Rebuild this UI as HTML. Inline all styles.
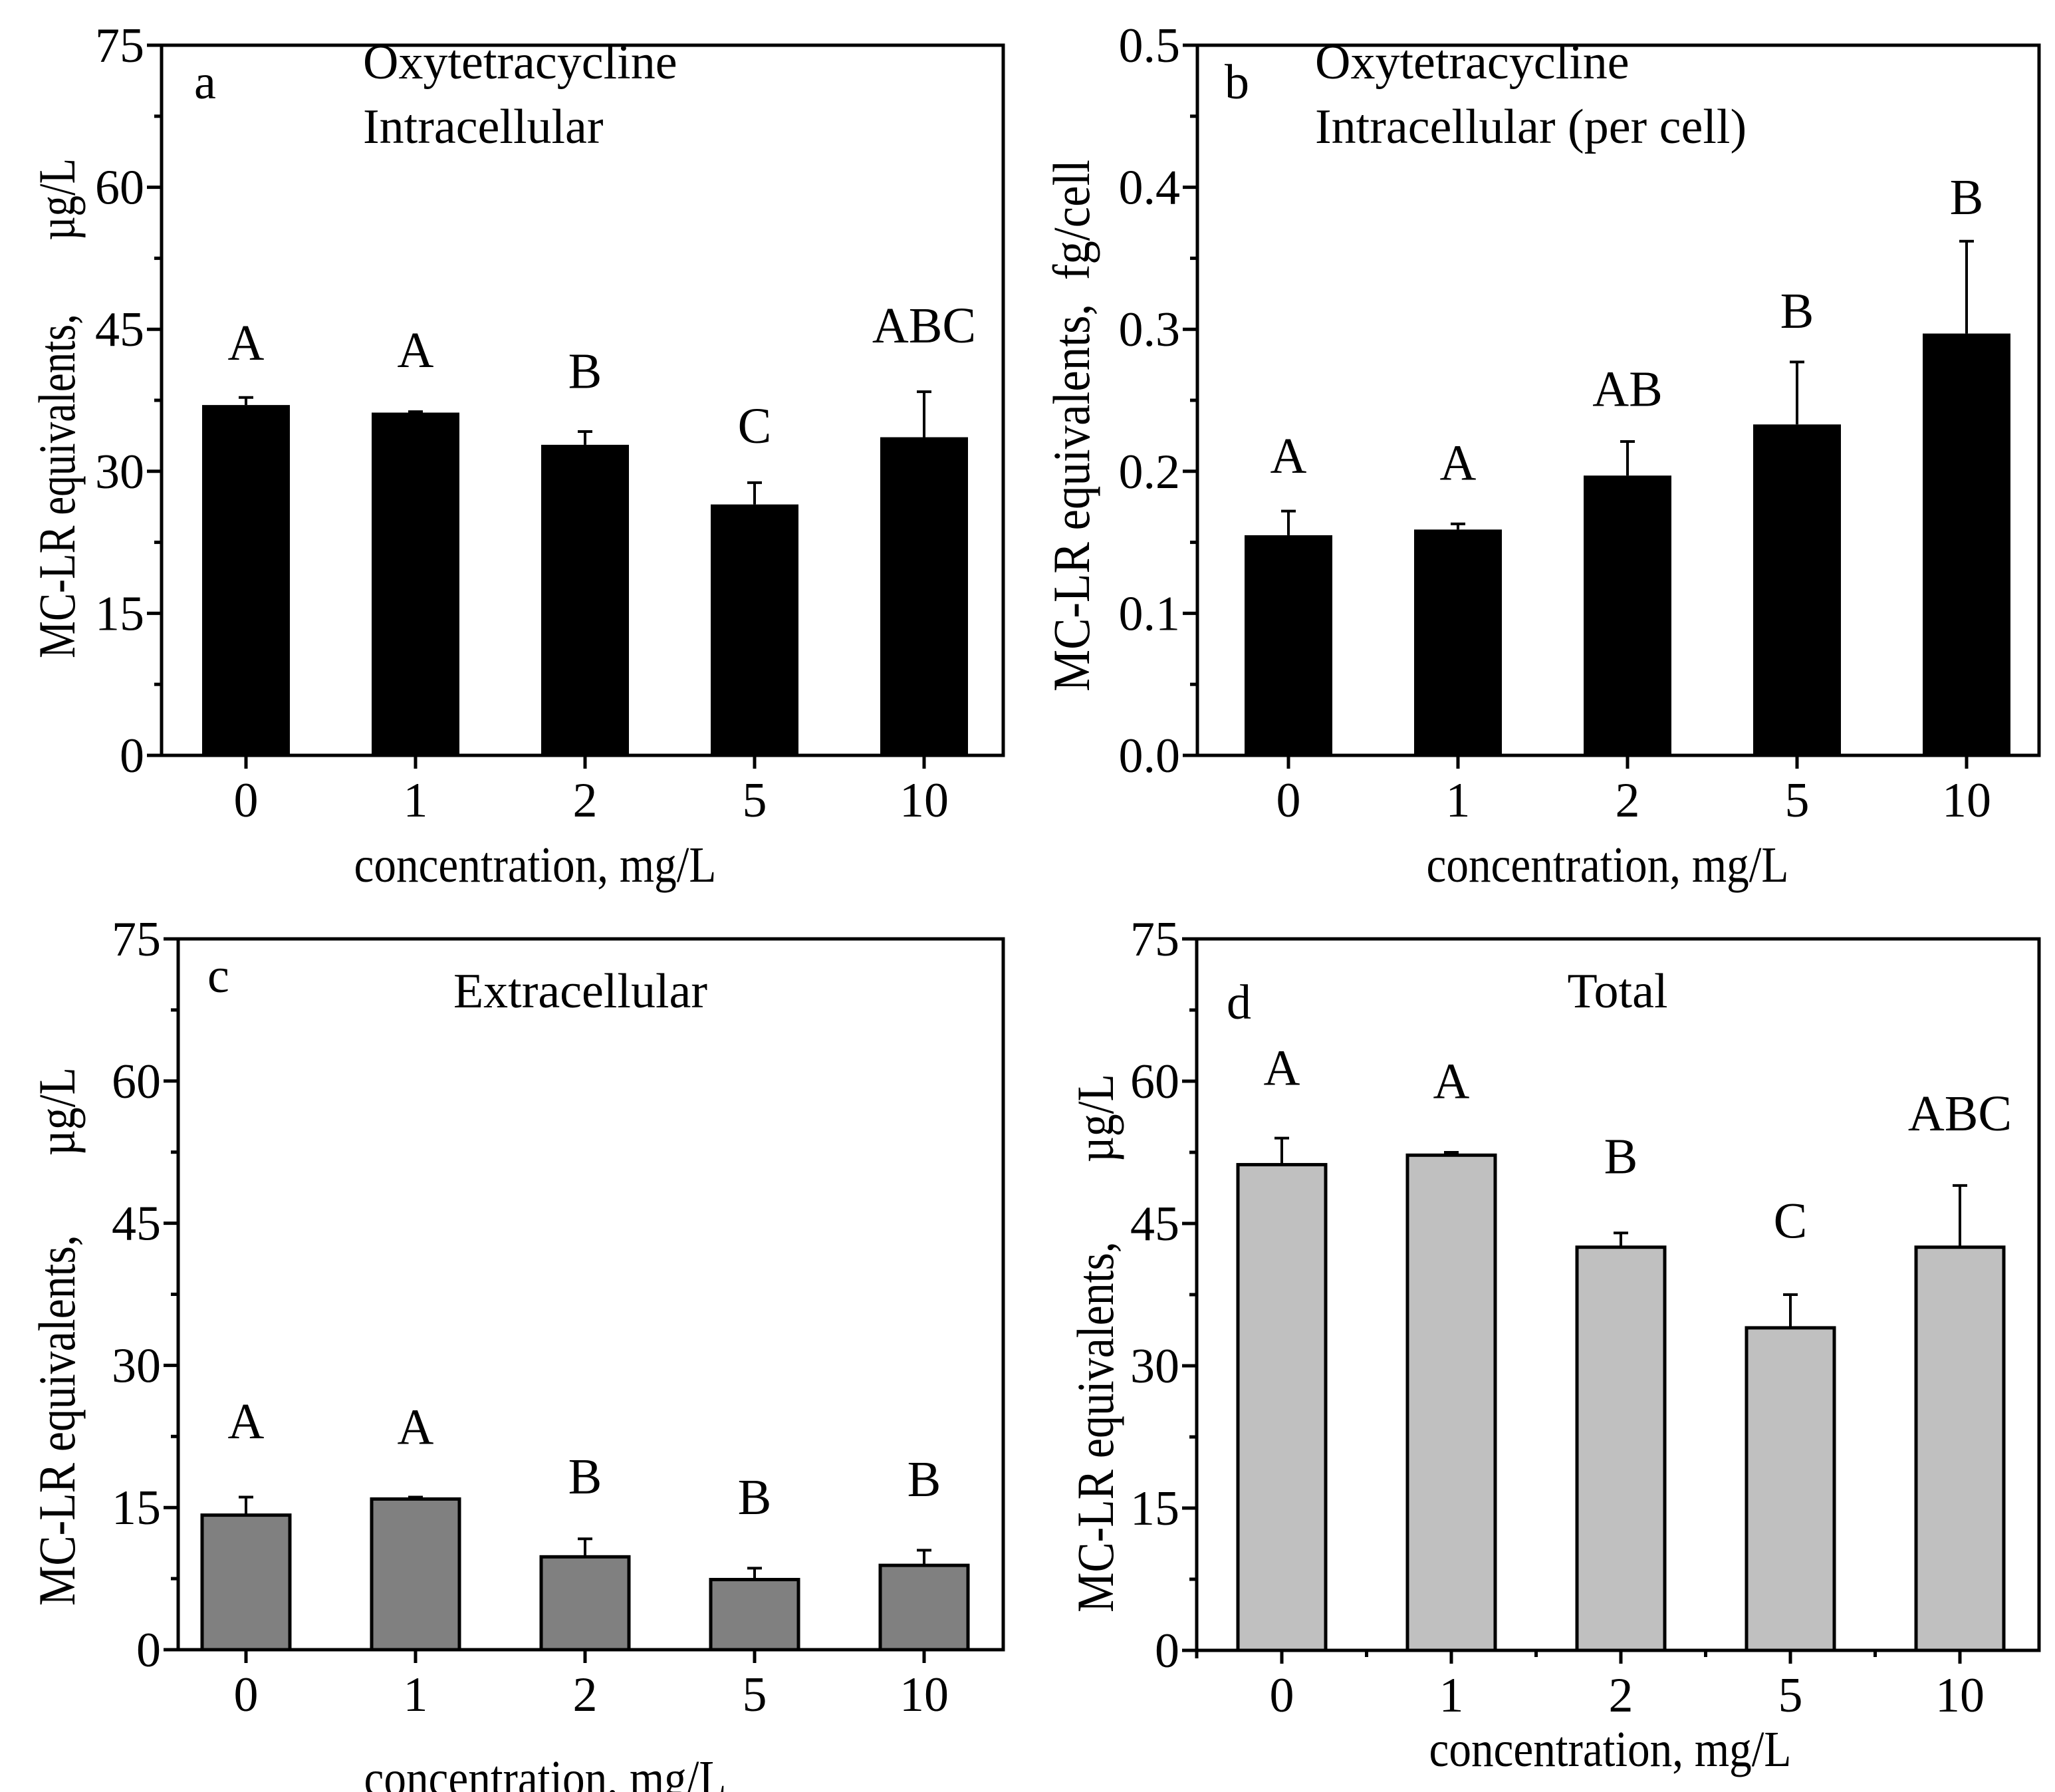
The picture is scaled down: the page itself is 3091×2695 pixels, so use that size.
<!DOCTYPE html>
<html><head><meta charset="utf-8"><style>
html,body{margin:0;padding:0;background:#fff}
svg{display:block}
text{font-family:"Liberation Serif","DejaVu Serif",serif;fill:#000}
</style></head><body>
<svg id="fig" width="3091" height="2695" viewBox="0 0 3091 2695" xmlns="http://www.w3.org/2000/svg"></svg>
<script>
const categories = ["0","1","2","5","10"];
const aValues = [37.0, 36.2, 32.8, 26.5, 33.6];
const aErrTop = [37.8, 36.3, 34.2, 28.8, 38.4];
const aLetters = ["A","A","B","C","ABC"];
const aLetterY = [41.8, 41.0, 38.8, 33.0, 43.6];
const bValues = [0.155, 0.159, 0.197, 0.233, 0.297];
const bErrTop = [0.172, 0.163, 0.221, 0.277, 0.362];
const bLetters = ["A","A","AB","B","B"];
const bLetterY = [0.199, 0.194, 0.246, 0.301, 0.381];
const cValues = [14.2, 15.9, 9.8, 7.4, 8.9];
const cErrTop = [16.1, 16.1, 11.7, 8.6, 10.5];
const cLetters = ["A","A","B","B","B"];
const cLetterY = [22.3, 21.7, 16.5, 14.3, 16.2];
const dValues = [51.2, 52.2, 42.5, 34.0, 42.5];
const dErrTop = [54.0, 52.5, 44.0, 37.5, 49.0];
const dLetters = ["A","A","B","C","ABC"];
const dLetterY = [59.6, 58.2, 50.3, 43.5, 54.8];
const ticks75 = [0, 15, 30, 45, 60, 75];
const ticks05 = [0, 0.1, 0.2, 0.3, 0.4, 0.5];

const NS = "http://www.w3.org/2000/svg";
const svg = document.getElementById("fig");
function mk(tag, attrs, parent) {
  const e = document.createElementNS(NS, tag);
  for (const k in attrs) e.setAttribute(k, attrs[k]);
  (parent || svg).appendChild(e);
  return e;
}

function panel(cfg) {
  const g = mk("g", {});
  
  
  const {L, T, R, B, x0, step, ymax} = cfg;
  const y = v => B - (v / ymax) * (B - T);
  const x = i => x0 + i * step;
  const bw = 132;
  cfg.values.forEach((v, i) => {
    const r = mk("rect", {x: x(i) - bw / 2, y: y(v), width: bw, height: B - y(v), fill: cfg.fill, stroke: "#000", "stroke-width": cfg.fill === "#000" ? 0 : 5}, g);
    
    
    const e = mk("path", {d: `M${x(i)},${y(v)}V${y(cfg.err[i])}M${x(i) - 11},${y(cfg.err[i])}H${x(i) + 11}`, stroke: "#000", "stroke-width": 4, fill: "none"}, g);
    
    
    const t = mk("text", {x: x(i), y: y(cfg.letterY[i]), "font-size": 76, "text-anchor": "middle"}, g);
    t.textContent = cfg.letters[i];
    
    
  });
  const f = mk("rect", {x: L, y: T, width: R - L, height: B - T, fill: "none", stroke: "#000", "stroke-width": 5}, g);
  
  
  cfg.ticks.forEach((tv, k) => {
    const ty = y(tv);
    mk("line", {x1: L - 22, x2: L, y1: ty, y2: ty, stroke: "#000", "stroke-width": 5}, g);
    if (k < cfg.ticks.length - 1) {
      const my = y((tv + cfg.ticks[k + 1]) / 2);
      mk("line", {x1: L - 11, x2: L, y1: my, y2: my, stroke: "#000", "stroke-width": 5}, g);
    }
    const lab = mk("text", {x: L - 26, y: ty + 25, "font-size": 74, "text-anchor": "end"}, g);
    lab.textContent = cfg.fmt(tv);
    
    
  });
  categories.forEach((c, i) => {
    mk("line", {x1: x(i), x2: x(i), y1: B, y2: B + 20, stroke: "#000", "stroke-width": 5}, g);
    if (cfg.minorX && i < categories.length - 1) {
      mk("line", {x1: x(i) + step / 2, x2: x(i) + step / 2, y1: B, y2: B + 10, stroke: "#000", "stroke-width": 5}, g);
    }
    const lab = mk("text", {x: x(i), y: B + 92, "font-size": 74, "text-anchor": "middle"}, g);
    lab.textContent = c;
    
    
  });
  if (cfg.minorX) {
    mk("line", {x1: L, x2: L, y1: B, y2: B + 12, stroke: "#000", "stroke-width": 5}, g);
  }
  const xt = mk("text", {x: cfg.xlabX, y: cfg.xlabY, "font-size": 76, "text-anchor": "middle", textLength: 545, lengthAdjust: "spacingAndGlyphs"}, g);
  xt.textContent = "concentration, mg/L";
  
  
  const yt = mk("text", {x: 0, y: 0, "font-size": 78, "text-anchor": "middle", textLength: cfg.ylabLen, lengthAdjust: "spacingAndGlyphs", transform: `translate(${cfg.ylabX},${cfg.ylabCY}) rotate(-90)`, style: "white-space:pre"}, g);
  yt.textContent = cfg.ylab;
  
  
  cfg.notes.forEach(n => {
    const t = mk("text", {x: n[1], y: n[2], "font-size": 74, "text-anchor": n[3] || "start"}, g);
    t.textContent = n[0];
    
    
  });
}

const f75 = v => String(v);
const f05 = v => v.toFixed(1);

panel({name: "panel-a", L: 243, T: 68, R: 1509, B: 1136, x0: 370, step: 255, ymax: 75, ticks: ticks75, fmt: f75,
  values: aValues, err: aErrTop, letters: aLetters, letterY: aLetterY, fill: "#000",
  xlabX: 805, xlabY: 1326, ylabX: 112, ylabCY: 614, ylabLen: 752, ylab: "MC-LR equivalents,       \u00b5g/L",
  notes: [["a", 292, 148, "start", "panel-label-a"], ["Oxytetracycline", 546, 118, "start", "panel-title-line1"], ["Intracellular", 546, 215, "start", "panel-title-line2"]]});

panel({name: "panel-b", L: 1801, T: 68, R: 3067, B: 1136, x0: 1938, step: 255, ymax: 0.5, ticks: ticks05, fmt: f05,
  values: bValues, err: bErrTop, letters: bLetters, letterY: bLetterY, fill: "#000",
  xlabX: 2418, xlabY: 1326, ylabX: 1638, ylabCY: 640, ylabLen: 800, ylab: "MC-LR equivalents,  fg/cell",
  notes: [["b", 1842, 148, "start", "panel-label-b"], ["Oxytetracycline", 1978, 118, "start", "panel-title-line1"], ["Intracellular (per cell)", 1978, 215, "start", "panel-title-line2"]]});

panel({name: "panel-c", L: 268, T: 1412, R: 1509, B: 2481, x0: 370, step: 255, ymax: 75, ticks: ticks75, fmt: f75,
  values: cValues, err: cErrTop, letters: cLetters, letterY: cLetterY, fill: "#808080",
  xlabX: 820, xlabY: 2700, ylabX: 112, ylabCY: 2010, ylabLen: 810, ylab: "MC-LR equivalents,       \u00b5g/L",
  notes: [["c", 312, 1492, "start", "panel-label-c"], ["Extracellular", 873, 1515, "middle", "panel-title"]]});

panel({name: "panel-d", L: 1800, T: 1412, R: 3067, B: 2482, x0: 1928, step: 255, ymax: 75, ticks: ticks75, fmt: f75,
  values: dValues, err: dErrTop, letters: dLetters, letterY: dLetterY, fill: "#c0c0c0", minorX: true,
  xlabX: 2422, xlabY: 2656, ylabX: 1674, ylabCY: 2020, ylabLen: 810, ylab: "MC-LR equivalents,       \u00b5g/L",
  notes: [["d", 1845, 1532, "start", "panel-label-d"], ["Total", 2433, 1515, "middle", "panel-title"]]});
</script>
</body></html>
